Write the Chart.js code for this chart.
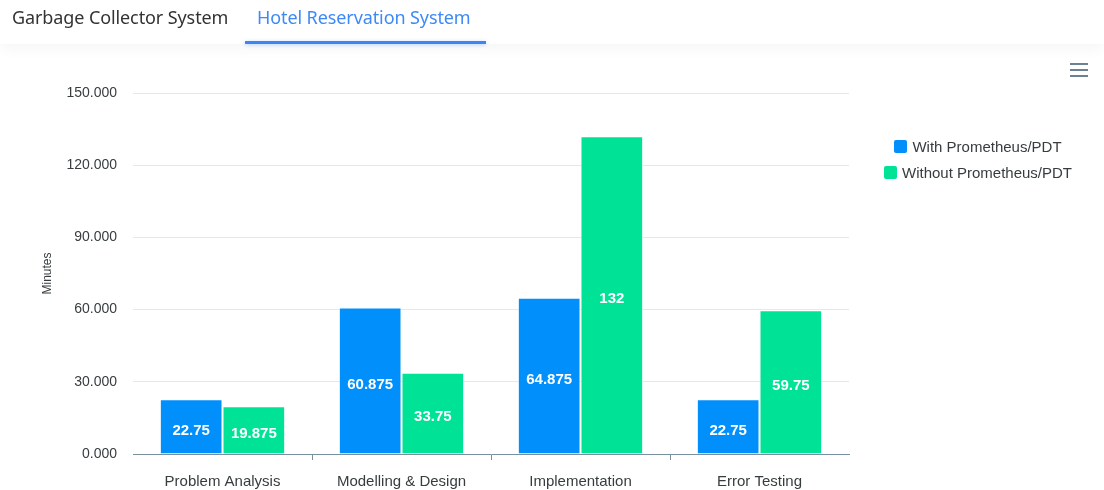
<!DOCTYPE html>
<html>
<head>
<meta charset="utf-8">
<script src="https://cdn.jsdelivr.net/npm/chart.js@4/dist/chart.umd.min.js"></script>
<style>
    html, body { margin: 0; padding: 0; background: #fff; }
    body { width: 1104px; height: 490px; position: relative; overflow: hidden; font-family: "Liberation Sans", Arial, sans-serif; }
    #tabs { position: absolute; left: 0; top: 0; width: 1104px; height: 44px; box-shadow: 0 5px 14px rgba(0, 0, 0, 0.04); z-index: 2; font-family: "Noto Sans", "Open Sans", sans-serif; font-size: 18px; }
    .tab { position: absolute; top: 5px; color: #333; letter-spacing: -0.1px; }
    .tab.active { color: #3d8af7; }
    #underline { position: absolute; left: 245px; top: 41px; width: 241px; height: 3px; background: #3d85f5; box-shadow: 0 1px 4px rgba(61, 133, 245, 0.35); }
    #wrap { position: absolute; left: 0; top: 0; width: 1104px; height: 490px; }
    #menu { position: absolute; left: 1070px; top: 63px; width: 18px; z-index: 3; }
    #menu div { height: 2px; background: #6e8192; margin-bottom: 4px; }
    #legend { position: absolute; left: 878px; top: 137px; width: 200px; text-align: center; font-size: 15px; color: #373d3f; z-index: 3; }
    .item { height: 26px; line-height: 20px; white-space: nowrap; }
    .box { display: inline-block; width: 13px; height: 13px; border-radius: 2px; margin-right: 5px; vertical-align: -1px; }
</style>
</head>
<body>
<div id="tabs">
    <span class="tab" style="left:12px">Garbage Collector System</span>
    <span class="tab active" style="left:257px">Hotel Reservation System</span>
    <div id="underline"></div>
</div>
<div id="menu"><div></div><div></div><div></div></div>
<div id="legend"></div>
<div id="wrap"><canvas id="chart"></canvas></div>
<script>
const categories = ['Problem Analysis', 'Modelling & Design', 'Implementation', 'Error Testing'];
const withPdt = [22.75, 60.875, 64.875, 22.75];
const withoutPdt = [19.875, 33.75, 132, 59.75];
const seriesNames = ['With Prometheus/PDT', 'Without Prometheus/PDT'];
const colors = ['#008ffb', '#00e396'];
const yTicks = [0, 30, 60, 90, 120, 150];

// white value labels in the middle of each bar
const barLabels = {
    id: 'barLabels',
    afterDatasetsDraw(chart) {
        const ctx = chart.ctx;
        ctx.save();
        ctx.font = 'bold 15px "Liberation Sans", Arial, sans-serif';
        ctx.fillStyle = '#fff';
        ctx.textAlign = 'center';
        ctx.textBaseline = 'middle';
        chart.data.datasets.forEach((ds, i) => {
            chart.getDatasetMeta(i).data.forEach((bar, j) => {
                ctx.fillText(String(ds.data[j]), bar.x, (bar.y + bar.base) / 2 + 4);
            });
        });
        ctx.restore();
    }
};

function buildLegend() {
    const legend = document.getElementById('legend');
    seriesNames.forEach((name, i) => {
        const row = document.createElement('div');
        row.className = 'item';
        row.innerHTML = `<span class="box" style="background:${colors[i]}"></span>${name}`;
        legend.appendChild(row);
    });
}

function setupChart() {
    new Chart(document.getElementById('chart'), {
        type: 'bar',
        data: {
            labels: categories,
            datasets: [withPdt, withoutPdt].map((values, i) => ({
                label: seriesNames[i],
                data: values,
                backgroundColor: colors[i],
                borderColor: 'rgba(255,255,255,0.45)',
                borderWidth: 1,
                categoryPercentage: 0.7,
                barPercentage: 1
            }))
        },
        options: {
            responsive: true,
            maintainAspectRatio: false,
            animation: false,
            layout: {padding: {left: 36, right: 255, top: 93, bottom: 0}},
            plugins: {
                legend: {display: false},
                tooltip: {enabled: false}
            },
            scales: {
                x: {
                    offset: true,
                    afterFit: (scale) => { scale.height = 36; },
                    border: {color: '#78909c', width: 1},
                    grid: {
                        offset: true,
                        drawOnChartArea: false,
                        tickLength: 6,
                        // no tick marks on the two outer edges
                        color: (c) => (c.type !== 'tick' || c.index === 0) ? 'rgba(0,0,0,0)' : '#78909c'
                    },
                    ticks: {
                        color: '#373d3f',
                        padding: 13,
                        font: {size: 15, family: '"Liberation Sans", Arial, sans-serif'}
                    }
                },
                y: {
                    min: yTicks[0],
                    max: yTicks[yTicks.length - 1],
                    afterFit: (scale) => { scale.width = 97; },
                    afterBuildTicks: (scale) => { scale.ticks = yTicks.map(v => ({value: v})); },
                    border: {display: false},
                    grid: {color: '#e8e8e8', drawTicks: false},
                    ticks: {
                        color: '#373d3f',
                        padding: 16,
                        font: {size: 14, family: '"Liberation Sans", Arial, sans-serif'},
                        callback: (v) => Number(v).toFixed(3)
                    },
                    title: {
                        display: true,
                        text: 'Minutes',
                        color: '#373d3f',
                        padding: 4,
                        font: {size: 12, family: '"Liberation Sans", Arial, sans-serif'}
                    }
                }
            }
        },
        plugins: [barLabels]
    });
}

buildLegend();
setupChart();
</script>
</body>
</html>
